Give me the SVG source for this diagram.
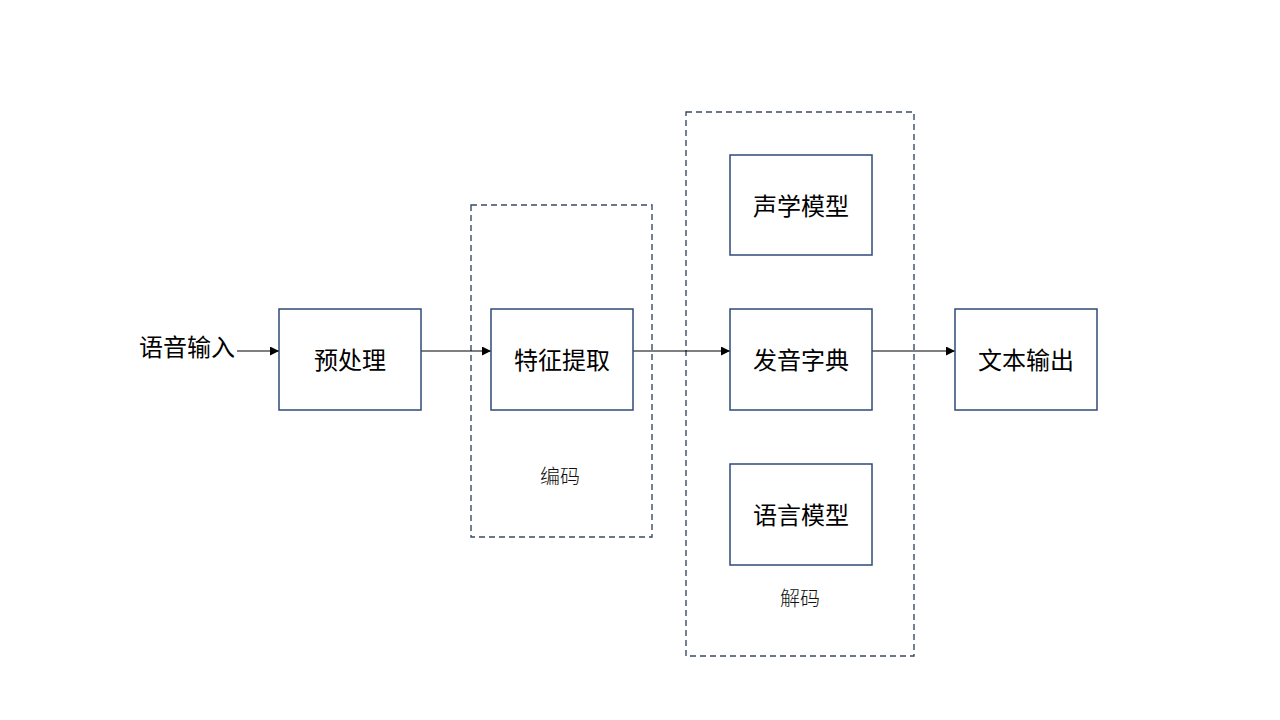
<svg xmlns="http://www.w3.org/2000/svg" width="1280" height="720" viewBox="0 0 1280 720">
<defs>
<marker id="arr" viewBox="0 0 10 10" refX="10" refY="5" markerWidth="9" markerHeight="9" markerUnits="userSpaceOnUse" orient="auto">
<path d="M0,0 L10,5 L0,10 Z" fill="#000"/>
</marker>
<style>
.box{fill:#fff;stroke:#2F4A7A;stroke-width:1.5}
.grp{fill:none;stroke:#3A4A66;stroke-width:1.4;stroke-dasharray:6 4}
.t{font-family:"Noto Sans CJK SC","Noto Sans",sans-serif;font-size:24px;fill:#000;text-anchor:middle;dominant-baseline:central}
.g{font-family:"Noto Sans CJK SC",sans-serif;font-size:20px;fill:#111;text-anchor:middle;dominant-baseline:central;font-weight:300}
.c{stroke:#000;stroke-width:1.2;fill:none;marker-end:url(#arr)}
</style>
</defs>
<rect width="1280" height="720" fill="#fff"/>
<g id="group-encode"><rect class="grp" x="471" y="205" width="181" height="332"/><text class="g" x="560" y="475">编码</text></g>
<g id="group-decode"><rect class="grp" x="686" y="112" width="228" height="544"/><text class="g" x="800" y="597">解码</text></g>
<g id="connectors">
<line class="c" x1="237" y1="351" x2="279" y2="351"/>
<line class="c" x1="421" y1="351" x2="491" y2="351"/>
<line class="c" x1="633" y1="351" x2="730" y2="351"/>
<line class="c" x1="872" y1="351" x2="955" y2="351"/>
</g>
<g id="input"><text class="t" x="187" y="345">语音输入</text></g>
<g id="preprocess"><rect class="box" x="279" y="309" width="142" height="101"/><text class="t" x="350" y="358">预处理</text></g>
<g id="feature"><rect class="box" x="491" y="309" width="142" height="101"/><text class="t" x="562" y="358">特征提取</text></g>
<g id="acoustic"><rect class="box" x="730" y="155" width="142" height="100"/><text class="t" x="801" y="204">声学模型</text></g>
<g id="lexicon"><rect class="box" x="730" y="309" width="142" height="101"/><text class="t" x="801" y="358">发音字典</text></g>
<g id="language"><rect class="box" x="730" y="464" width="142" height="101"/><text class="t" x="801" y="513">语言模型</text></g>
<g id="output"><rect class="box" x="955" y="309" width="142" height="101"/><text class="t" x="1026" y="358">文本输出</text></g>
</svg>
